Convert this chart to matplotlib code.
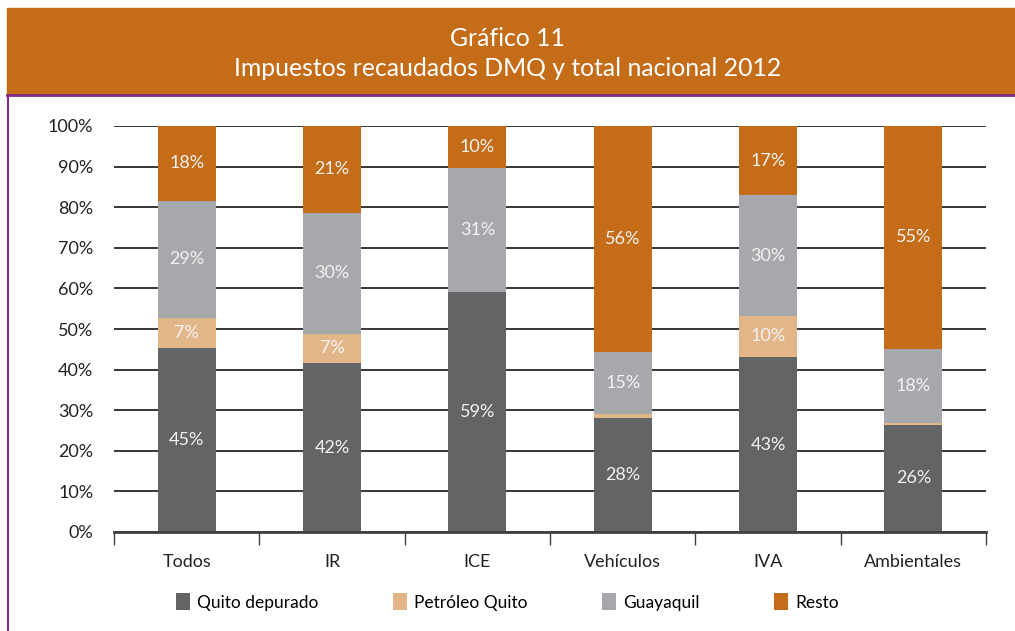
import numpy as np
import matplotlib
matplotlib.use("Agg")
import matplotlib.pyplot as plt
from matplotlib.patches import Rectangle
from matplotlib.lines import Line2D

# data (percent of each tax)
categories = ["Todos", "IR", "ICE", "Vehículos", "IVA", "Ambientales"]
quito = [45.4, 41.6, 59.0, 28.1, 43.1, 26.4]
petroleo = [7.4, 7.2, 0.0, 1.0, 10.2, 0.5]
guayaquil = [28.8, 29.8, 30.6, 15.2, 29.6, 18.2]
resto = [18.4, 21.4, 10.4, 55.7, 17.1, 54.9]
series_names = ["Quito depurado", "Petróleo Quito", "Guayaquil", "Resto"]
colors = ["#636466", "#E3B68A", "#A7A8AB", "#C46C17"]

plt.rcParams['font.family'] = ['Lato', 'DejaVu Sans']

W, H = 1015, 631
fig = plt.figure(figsize=(W / 100, H / 100), dpi=100)

# title banner and purple frame
fig.patches.append(Rectangle((7 / W, 1 - 94 / H), 1 - 7 / W, 86 / H,
                             transform=fig.transFigure, color="#C46C17", zorder=0))
fig.lines.append(Line2D([7 / W, 1], [1 - 95 / H, 1 - 95 / H], transform=fig.transFigure,
                        color="#7B2C83", lw=2))
fig.lines.append(Line2D([8 / W, 8 / W], [0, 1 - 95 / H], transform=fig.transFigure,
                        color="#7B2C83", lw=1.5))
fig.text(0.5, 1 - 39 / H, "Gráfico 11", ha="center", va="center", color="white", fontsize=17.8)
fig.text(0.5, 1 - 68 / H, "Impuestos recaudados DMQ y total nacional 2012",
         ha="center", va="center", color="white", fontsize=17.8)

ax = fig.add_axes([114 / W, 1 - 532 / H, 872 / W, 406 / H])
x = np.arange(len(categories))
bottom = np.zeros(len(categories))
for name, vals, c in zip(series_names, [quito, petroleo, guayaquil, resto], colors):
    vals = np.array(vals)
    bars = ax.bar(x, vals, 0.4, bottom=bottom, color=c, label=name, zorder=3)
    for xi, b, v in zip(x, bottom, vals):
        if v >= 5:
            ax.text(xi, b + v / 2, f"{v:.0f}%", ha="center", va="center",
                    color="#F2F2F2", fontsize=13, zorder=4)
    bottom += vals

ax.set_xlim(-0.5, len(categories) - 0.5)
ax.set_ylim(0, 100)
ax.set_yticks(np.arange(0, 101, 10))
ax.set_yticklabels([f"{v}%" for v in range(0, 101, 10)])
ax.yaxis.grid(True, color="black", lw=1.1, zorder=0)
ax.set_axisbelow(True)
for s in ["left", "right", "top"]:
    ax.spines[s].set_visible(False)
ax.spines["bottom"].set_color("#404040")
ax.spines["bottom"].set_linewidth(2)
ax.spines["bottom"].set_zorder(5)

ax.set_xticks(x)
ax.set_xticklabels(categories)
ax.set_xticks(np.arange(-0.5, len(categories), 1), minor=True)
ax.tick_params(axis="x", which="major", length=0, pad=16, labelsize=13, colors="#222222")
ax.tick_params(axis="x", which="minor", length=9, width=1, color="#404040")
ax.tick_params(axis="y", length=0, pad=15, labelsize=13, colors="#222222")

handles, labels = ax.get_legend_handles_labels()
fig.legend(handles, labels, loc="center", bbox_to_anchor=(0.5, 1 - 602 / H), ncol=4,
           frameon=False, fontsize=12.5, handlelength=0.8, handleheight=1.1,
           handletextpad=0.4, columnspacing=4.3)

fig.savefig("out.png", dpi=100, facecolor="white")
